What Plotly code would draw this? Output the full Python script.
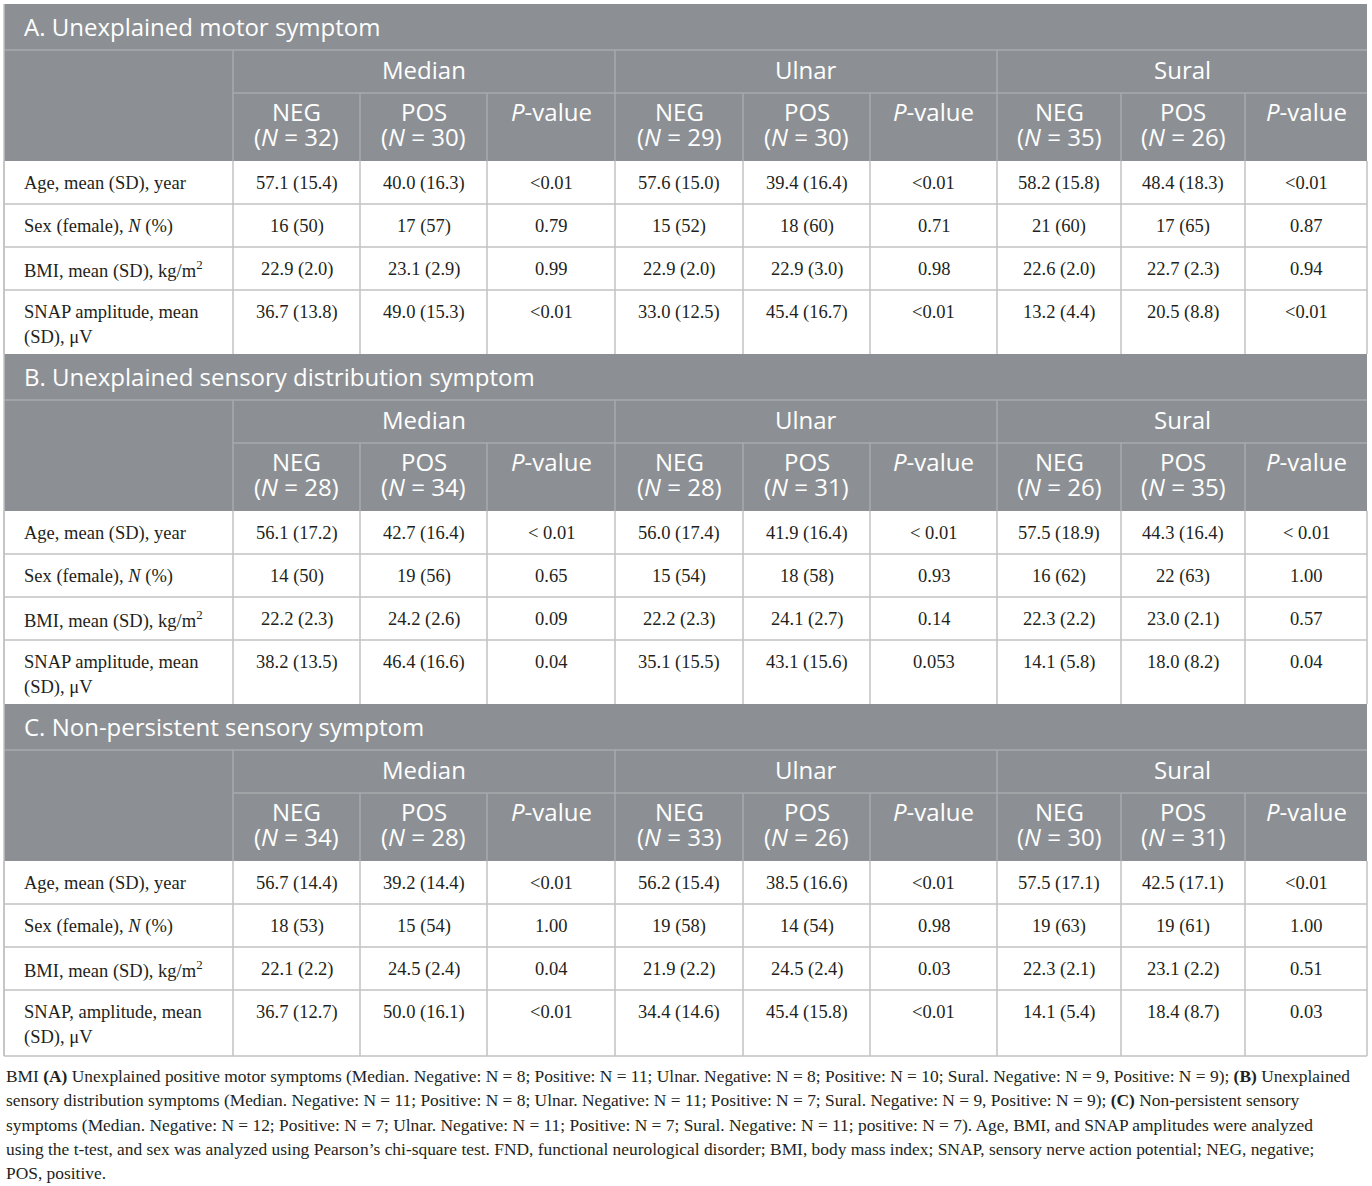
import plotly.graph_objects as go

W, H = 1372, 1186

# ---- table content ----
SECTION_TITLES = [
    "A. Unexplained motor symptom",
    "B. Unexplained sensory distribution symptom",
    "C. Non-persistent sensory symptom",
]
NERVES = ["Median", "Ulnar", "Sural"]
GROUPS = ["NEG", "POS"]
P_LABEL = "<i>P</i>-value"

# N for NEG/POS of Median, Ulnar, Sural in each section
GROUP_N_A = [32, 30, 29, 30, 35, 26]
GROUP_N_B = [28, 34, 28, 31, 26, 35]
GROUP_N_C = [34, 28, 33, 26, 30, 31]

ROW_LABELS_AB = [
    ["Age, mean (SD), year"],
    ["Sex (female), <i>N</i> (%)"],
    ["BMI, mean (SD), kg/m<sup>2</sup>"],
    ["SNAP amplitude, mean", "(SD), \u03bcV"],
]
ROW_LABELS_C = [
    ["Age, mean (SD), year"],
    ["Sex (female), <i>N</i> (%)"],
    ["BMI, mean (SD), kg/m<sup>2</sup>"],
    ["SNAP, amplitude, mean", "(SD), \u03bcV"],
]

VALUES_A = [
    ["57.1 (15.4)", "40.0 (16.3)", "<0.01", "57.6 (15.0)", "39.4 (16.4)", "<0.01", "58.2 (15.8)", "48.4 (18.3)", "<0.01"],
    ["16 (50)", "17 (57)", "0.79", "15 (52)", "18 (60)", "0.71", "21 (60)", "17 (65)", "0.87"],
    ["22.9 (2.0)", "23.1 (2.9)", "0.99", "22.9 (2.0)", "22.9 (3.0)", "0.98", "22.6 (2.0)", "22.7 (2.3)", "0.94"],
    ["36.7 (13.8)", "49.0 (15.3)", "<0.01", "33.0 (12.5)", "45.4 (16.7)", "<0.01", "13.2 (4.4)", "20.5 (8.8)", "<0.01"],
]
VALUES_B = [
    ["56.1 (17.2)", "42.7 (16.4)", "< 0.01", "56.0 (17.4)", "41.9 (16.4)", "< 0.01", "57.5 (18.9)", "44.3 (16.4)", "< 0.01"],
    ["14 (50)", "19 (56)", "0.65", "15 (54)", "18 (58)", "0.93", "16 (62)", "22 (63)", "1.00"],
    ["22.2 (2.3)", "24.2 (2.6)", "0.09", "22.2 (2.3)", "24.1 (2.7)", "0.14", "22.3 (2.2)", "23.0 (2.1)", "0.57"],
    ["38.2 (13.5)", "46.4 (16.6)", "0.04", "35.1 (15.5)", "43.1 (15.6)", "0.053", "14.1 (5.8)", "18.0 (8.2)", "0.04"],
]
VALUES_C = [
    ["56.7 (14.4)", "39.2 (14.4)", "<0.01", "56.2 (15.4)", "38.5 (16.6)", "<0.01", "57.5 (17.1)", "42.5 (17.1)", "<0.01"],
    ["18 (53)", "15 (54)", "1.00", "19 (58)", "14 (54)", "0.98", "19 (63)", "19 (61)", "1.00"],
    ["22.1 (2.2)", "24.5 (2.4)", "0.04", "21.9 (2.2)", "24.5 (2.4)", "0.03", "22.3 (2.1)", "23.1 (2.2)", "0.51"],
    ["36.7 (12.7)", "50.0 (16.1)", "<0.01", "34.4 (14.6)", "45.4 (15.8)", "<0.01", "14.1 (5.4)", "18.4 (8.7)", "0.03"],
]

FOOTNOTE = [
    "BMI <b>(A)</b> Unexplained positive motor symptoms (Median. Negative: N = 8; Positive: N = 11; Ulnar. Negative: N = 8; Positive: N = 10; Sural. Negative: N = 9, Positive: N = 9); <b>(B)</b> Unexplained",
    "sensory distribution symptoms (Median. Negative: N = 11; Positive: N = 8; Ulnar. Negative: N = 11; Positive: N = 7; Sural. Negative: N = 9, Positive: N = 9); <b>(C)</b> Non-persistent sensory",
    "symptoms (Median. Negative: N = 12; Positive: N = 7; Ulnar. Negative: N = 11; Positive: N = 7; Sural. Negative: N = 11; positive: N = 7). Age, BMI, and SNAP amplitudes were analyzed",
    "using the t-test, and sex was analyzed using Pearson\u2019s chi-square test. FND, functional neurological disorder; BMI, body mass index; SNAP, sensory nerve action potential; NEG, negative;",
    "POS, positive.",
]

SECTIONS = [
    (SECTION_TITLES[0], GROUP_N_A, ROW_LABELS_AB, VALUES_A),
    (SECTION_TITLES[1], GROUP_N_B, ROW_LABELS_AB, VALUES_B),
    (SECTION_TITLES[2], GROUP_N_C, ROW_LABELS_C, VALUES_C),
]

# ---- layout (pixels) ----
X_EDGES = [4, 233, 360, 487, 615, 743, 870, 997, 1121, 1245, 1367]
SECTION_TOPS = [4, 354, 704, 1056]
TITLE_H, NERVE_H, SUB_H = 46, 43, 68
BODY_TOPS = [0, 43, 86, 129]
LINE_GAP = 25

HEAD_BG = "#8c9094"
HEAD_LINE = "#a8abad"
BODY_LINE = "#c2c2c2"
TEXT = "#231f20"
SANS = "Open Sans"
SERIF = "Liberation Serif"
HEAD_SIZE = 24
BODY_SIZE = 18.5

shapes = []
ann = []


def line(x0, y0, x1, y1, color, width=1.5):
    shapes.append(dict(type="line", x0=x0, y0=y0, x1=x1, y1=y1,
                       xref="x", yref="y", line=dict(color=color, width=width)))


def text(x, y, s, font, size, color, anchor="center"):
    ann.append(dict(x=x, y=y, text=s, showarrow=False, xanchor=anchor, yanchor="middle",
                    xref="x", yref="y", font=dict(family=font, size=size, color=color)))


left, right = X_EDGES[0], X_EDGES[-1]

for i, (title, group_n, labels, values) in enumerate(SECTIONS):
    s = SECTION_TOPS[i]
    end = SECTION_TOPS[i + 1]
    y_nerve = s + TITLE_H
    y_sub = y_nerve + NERVE_H
    y_body = y_sub + SUB_H

    # header block
    shapes.append(dict(type="rect", x0=left, x1=right, y0=s, y1=y_body, xref="x", yref="y",
                       fillcolor=HEAD_BG, line=dict(width=0), layer="below"))
    line(left, y_nerve, right, y_nerve, HEAD_LINE)
    line(X_EDGES[1], y_sub, right, y_sub, HEAD_LINE)
    for k, xe in enumerate(X_EDGES[1:-1], start=1):
        top = y_nerve if (k - 1) % 3 == 0 else y_sub
        line(xe, top, xe, y_body, HEAD_LINE)

    text(left + 18, s + 22, title, SANS, HEAD_SIZE, "white", "left")
    for j, nerve in enumerate(NERVES):
        xc = (X_EDGES[1 + 3 * j] + X_EDGES[4 + 3 * j]) / 2
        text(xc, y_nerve + 19, nerve, SANS, HEAD_SIZE, "white")
        for g in range(2):
            c = 1 + 3 * j + g
            xc = (X_EDGES[c] + X_EDGES[c + 1]) / 2
            text(xc, y_sub + 18, GROUPS[g], SANS, HEAD_SIZE, "white")
            text(xc, y_sub + 18 + LINE_GAP, f"(<i>N</i> = {group_n[2 * j + g]})", SANS, HEAD_SIZE, "white")
        c = 3 + 3 * j
        text((X_EDGES[c] + X_EDGES[c + 1]) / 2, y_sub + 18, P_LABEL, SANS, HEAD_SIZE, "white")

    # body
    row_edges = [y_body + b for b in BODY_TOPS] + [end]
    for r in range(len(labels)):
        top = row_edges[r]
        if r > 0:
            line(left, top, right, top, BODY_LINE)
        for li, lab in enumerate(labels[r]):
            text(left + 18, top + 22 + li * LINE_GAP, lab, SERIF, BODY_SIZE, TEXT, "left")
        for c, v in enumerate(values[r]):
            xc = (X_EDGES[c + 1] + X_EDGES[c + 2]) / 2
            text(xc, top + 22, v, SERIF, BODY_SIZE, TEXT)
    for xe in X_EDGES:
        line(xe, y_body, xe, end, BODY_LINE)

line(left, SECTION_TOPS[-1], right, SECTION_TOPS[-1], BODY_LINE)
line(left, SECTION_TOPS[0], left, SECTION_TOPS[-1], BODY_LINE)

for k, fl in enumerate(FOOTNOTE):
    text(left, 1076 + k * 24.3, fl, SERIF, 17.4, TEXT, "left")

fig = go.Figure()
fig.update_layout(
    width=W, height=H,
    margin=dict(l=0, r=0, t=0, b=0),
    paper_bgcolor="white", plot_bgcolor="white",
    xaxis=dict(range=[0, W], visible=False, fixedrange=True),
    yaxis=dict(range=[H, 0], visible=False, fixedrange=True),
    shapes=shapes, annotations=ann, showlegend=False,
)
fig.write_html("out.html", config={"displayModeBar": False},
               post_script="document.body.style.margin='0';")
